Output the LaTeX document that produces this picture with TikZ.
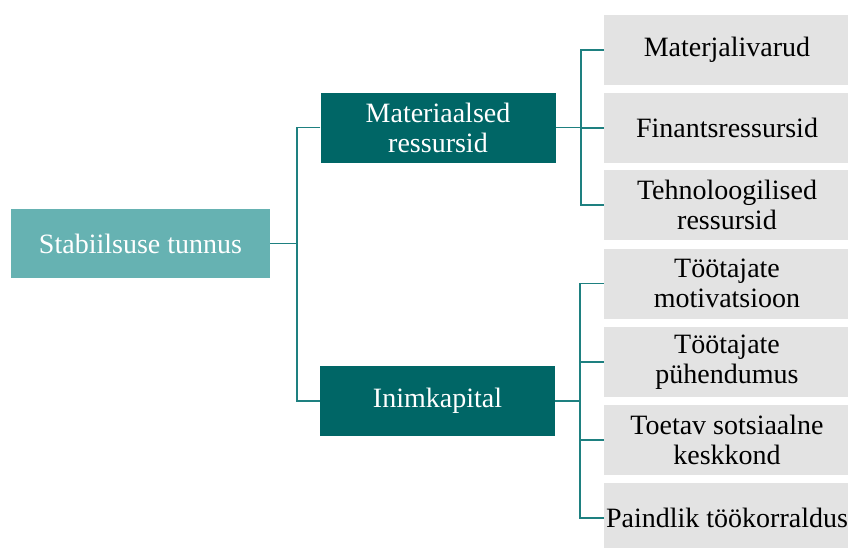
\documentclass[tikz,border=0pt]{standalone}
\usepackage{fontspec}
\setmainfont{Liberation Serif}
\definecolor{rootfill}{RGB}{102,178,178}
\definecolor{midfill}{RGB}{0,102,102}
\definecolor{leaffill}{RGB}{227,227,227}
\definecolor{linkcol}{RGB}{30,128,128}
\tikzset{
  basebox/.style={inner sep=0pt, align=center, font=\fontsize{28}{30}\selectfont},
  rootbox/.style={basebox, fill=rootfill, text=white, minimum width=259pt, minimum height=69pt},
  midbox/.style={basebox, fill=midfill, text=white, minimum width=235pt, minimum height=70pt},
  leafbox/.style={basebox, fill=leaffill, text=black, minimum width=246pt, minimum height=70pt},
  link/.style={draw=linkcol, line width=1.6pt}
}
\begin{document}
\begin{tikzpicture}[x=1pt, y=-1pt]
  \useasboundingbox (0,0) rectangle (848,547);
  \clip (0,0) rectangle (848,547);

  % root and the two branch headings
  \node[rootbox] (root) at (140.5,243.5) {Stabiilsuse tunnus};
  \node[midbox] (mat) at (438,127.5) {Materiaalsed\\ressursid};
  \node[midbox] (inim) at (437.5,401) {Inimkapital};

  % leaves of the first branch
  \node[leafbox] (l1) at (727,50) {Materjalivarud};
  \node[leafbox] (l2) at (727,128) {Finantsressursid};
  \node[leafbox] (l3) at (727,205) {Tehnoloogilised\\ressursid};

  % leaves of the second branch
  \node[leafbox] (l4) at (727,283.5) {Töötajate\\motivatsioon};
  \node[leafbox] (l5) at (727,362) {Töötajate\\pühendumus};
  \node[leafbox] (l6) at (727,440) {Toetav sotsiaalne\\keskkond};
  \node[leafbox] (l7) at (727,518) {Paindlik töökorraldus};

  % root to headings
  \draw[link] (root.east) -- ++(27,0) coordinate (j0);
  \draw[link] (mat.west) -| (j0) |- (inim.west);

  % first heading to its leaves
  \draw[link] (mat.east) -- ++(25,0) coordinate (j1);
  \draw[link] (l1.west) -| (j1) |- (l3.west);
  \draw[link] (j1 |- l2.west) -- (l2.west);

  % second heading to its leaves
  \draw[link] (inim.east) -- ++(25,0) coordinate (j2);
  \draw[link] (l4.west) -| (j2) |- (l7.west);
  \draw[link] (j2 |- l5.west) -- (l5.west);
  \draw[link] (j2 |- l6.west) -- (l6.west);
\end{tikzpicture}
\end{document}
